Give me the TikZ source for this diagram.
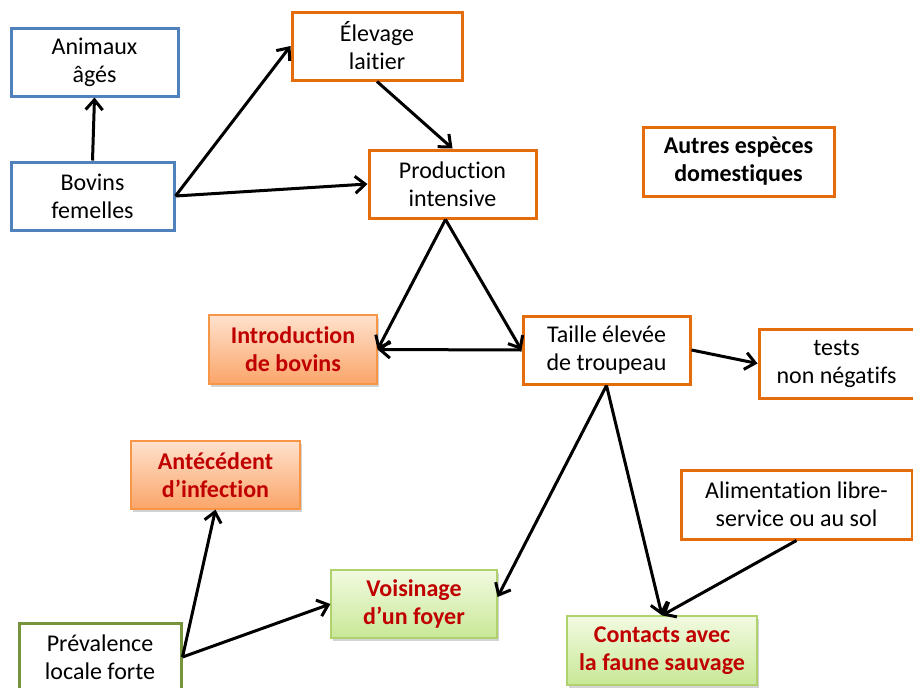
\documentclass[tikz,border=0pt]{standalone}
\usepackage{fontspec}
\setmainfont{Carlito}[RawFeature=-liga,RawFeature=-clig,RawFeature=-dlig]
\usetikzlibrary{arrows.meta,shadows,calc}
\definecolor{bluebd}{RGB}{79,129,189}
\definecolor{orangebd}{RGB}{228,108,10}
\definecolor{orangelt}{RGB}{247,150,70}
\definecolor{greenbd}{RGB}{119,147,60}
\definecolor{greenlt}{RGB}{175,210,110}
\definecolor{redtxt}{RGB}{192,0,0}
\definecolor{ortop}{RGB}{255,225,205}
\definecolor{orbot}{RGB}{250,165,105}
\definecolor{grtop}{RGB}{242,250,225}
\definecolor{grbot}{RGB}{200,232,150}
\tikzset{
  base/.style={rectangle, align=center, font=\fontsize{24}{28}\selectfont, inner sep=0pt},
  bluebox/.style={base, draw=bluebd, line width=3pt, fill=white},
  orbox/.style={base, draw=orangebd, line width=3pt, fill=white},
  grbox/.style={base, draw=greenbd, line width=3pt, fill=white},
  orfill/.style={base, draw=orangelt, line width=1.2pt, top color=ortop, bottom color=orbot,
     drop shadow={shadow xshift=2pt, shadow yshift=-2.5pt, opacity=0.35},
     font=\fontsize{24}{28}\selectfont\bfseries\color{redtxt}},
  grfill/.style={base, draw=greenlt, line width=1.2pt, top color=grtop, bottom color=grbot,
     drop shadow={shadow xshift=2pt, shadow yshift=-2.5pt, opacity=0.35},
     font=\fontsize{24}{28}\selectfont\bfseries\color{redtxt}},
  arr/.style={line width=3pt, -{Straight Barb[length=10pt,width=17pt]}}
}
\begin{document}
\begin{tikzpicture}[x=1pt,y=-1pt]
\useasboundingbox (0,0) rectangle (913,688);
\node[bluebox, minimum width=167pt, minimum height=68pt] (anim) at (94.5,62) {Animaux\\âgés};
\node[bluebox, minimum width=163pt, minimum height=68pt] (bov) at (92.5,196) {Bovins\\femelles};
\node[orbox, minimum width=170pt, minimum height=68pt] (elev) at (377,46) {Élevage\\laitier};
\node[orbox, minimum width=167pt, minimum height=68pt] (prod) at (452.5,184) {Production\\intensive};
\node[orbox, minimum width=191pt, minimum height=69pt, font=\fontsize{24}{28}\selectfont\bfseries] (autres) at (738.5,161.5) {Autres espèces\\domestiques};
\node[orfill, minimum width=168pt, minimum height=69pt] (intro) at (293,349.5) {Introduction\\de bovins};
\node[orbox, minimum width=167pt, minimum height=68pt] (taille) at (606.5,350) {Taille élevée\\de troupeau};
\node[orbox, minimum width=155pt, minimum height=69pt] (tests) at (836.5,363.5) {tests\\non négatifs};
\node[orfill, minimum width=169pt, minimum height=68pt] (ant) at (215.5,475) {Antécédent\\d’infection};
\node[orbox, minimum width=231pt, minimum height=69pt] (alim) at (796.5,504.5) {Alimentation libre-\\service ou au sol};
\node[grfill, minimum width=166pt, minimum height=68pt] (voisin) at (414,604) {Voisinage\\d’un foyer};
\node[grbox, minimum width=162pt, minimum height=68pt] (prev) at (100,657) {Prévalence\\locale forte};
\node[grfill, minimum width=190pt, minimum height=69pt] (contacts) at (662,650.5) {Contacts avec\\la faune sauvage};

\draw[arr] (bov.north) -- (anim.south);
\draw[arr] (bov.east) -- (elev.west);
\draw[arr] (bov.east) -- (prod.west);
\draw[arr] (elev.south) -- (prod.north);
\coordinate (prodb) at ($(prod.south)+(-7,0)$);
\draw[arr] (prodb) -- (intro.east);
\draw[arr] (prodb) -- (taille.west);
\draw[arr] (taille.west) -- (intro.east);
\draw[arr] (taille.east) -- (tests.west);
\draw[arr] (taille.south) -- ($(voisin.east)+(0,-7)$);
\draw[arr] (taille.south) -- (contacts.north);
\draw[arr] (alim.south) -- (contacts.north);
\draw[arr] (prev.east) -- (ant.south);
\draw[arr] (prev.east) -- (voisin.west);
\end{tikzpicture}
\end{document}
